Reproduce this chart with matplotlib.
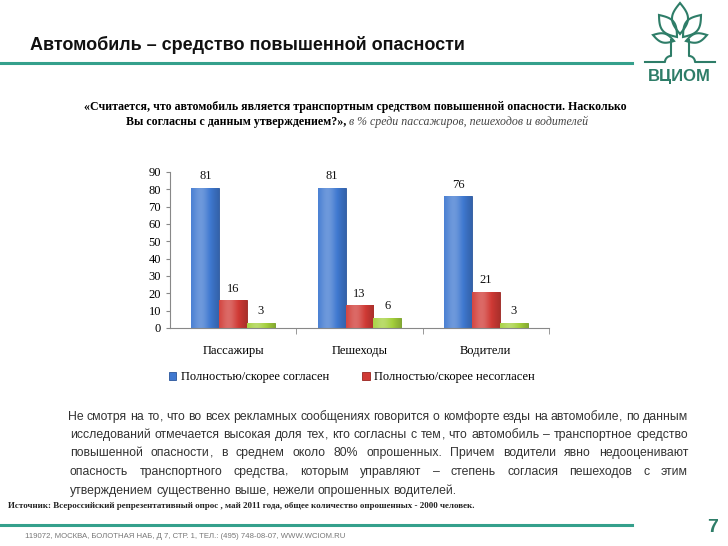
import numpy as np
import matplotlib.pyplot as plt
from matplotlib.colors import to_rgb
from matplotlib.patches import Polygon

categories = ['Пассажиры', 'Пешеходы', 'Водители']
agree = [81, 81, 76]
disagree = [16, 13, 21]
unsure = [3, 6, 3]
legend_labels = ['Полностью/скорее согласен', 'Полностью/скорее несогласен']
y_ticks = [0, 10, 20, 30, 40, 50, 60, 70, 80, 90]

title = 'Автомобиль – средство повышенной опасности'
question_1 = '«Считается, что автомобиль является транспортным средством повышенной опасности. Насколько'
question_2 = 'Вы согласны с данным утверждением?»,'
question_note = 'в % среди пассажиров, пешеходов и водителей'
paragraph = [
    'Не  смотря на то, что во всех рекламных сообщениях говорится о комфорте езды на автомобиле, по данным',
    'исследований отмечается высокая доля тех, кто  согласны с тем, что автомобиль – транспортное средство',
    'повышенной опасности, в среднем около 80% опрошенных. Причем водители явно недооценивают',
    'опасность транспортного средства, которым управляют – степень согласия пешеходов с этим',
    'утверждением существенно выше, нежели опрошенных водителей.',
]
source = ('Источник: Всероссийский репрезентативный опрос , май 2011 года, '
          'общее количество опрошенных - 2000 человек.')
address = '119072, МОСКВА, БОЛОТНАЯ НАБ, Д 7, СТР. 1, ТЕЛ.: (495) 748-08-07, WWW.WCIOM.RU'

W, H = 728, 546
teal = '#35a08c'
serif = ['Liberation Serif', 'DejaVu Serif']
sans = ['Liberation Sans', 'DejaVu Sans']

fig = plt.figure(figsize=(W / 100, H / 100), dpi=100)

# overlay in pixel coordinates for page decoration
ov = fig.add_axes([0, 0, 1, 1])
ov.set_xlim(0, W)
ov.set_ylim(H, 0)
ov.axis('off')

# chart
ax = fig.add_axes([170 / W, 1 - 328 / H, 379 / W, 156 / H])
x = np.arange(len(categories))
w = 0.22
colors = ['#3f78d0', '#d03a35', '#a4d03c']
edges = ['#2a559a', '#992420', '#6f9a22']
b1 = ax.bar(x - w, agree, w, color=colors[0], edgecolor=edges[0], linewidth=0.6)
b2 = ax.bar(x, disagree, w, color=colors[1], edgecolor=edges[1], linewidth=0.6)
b3 = ax.bar(x + w, unsure, w, color=colors[2], edgecolor=edges[2], linewidth=0.6)


def shade(bars, base):
    c = np.array(to_rgb(base))
    t = np.linspace(0, 1, 60)
    k = 0.25 * np.exp(-((t - 0.35) / 0.3) ** 2) - 0.18 * t ** 3
    rgb = np.clip(c + k[:, None] * np.where(k[:, None] > 0, 1 - c, c), 0, 1)
    for b in bars:
        x0, y0 = b.get_xy()
        im = ax.imshow(rgb[None, :, :], extent=[x0, x0 + b.get_width(), y0, y0 + b.get_height()],
                       aspect='auto', zorder=b.get_zorder() + 0.1, interpolation='bilinear')
        im.set_clip_path(b)


for bars, c in zip((b1, b2, b3), colors):
    shade(bars, c)
    ax.bar_label(bars, padding=4, fontsize=9, family=serif, color='#111')

ax.set_xlim(-0.5, 2.5)
ax.set_ylim(0, 90)
ax.set_aspect('auto')
ax.set_yticks(y_ticks)
ax.set_xticks(x)
ax.set_xticklabels(categories, family=serif, fontsize=9)
ax.set_xticks([0.5, 1.5, 2.5], minor=True)
ax.tick_params(axis='x', which='major', length=0, pad=12)
ax.tick_params(axis='x', which='minor', length=4, color='#888')
ax.tick_params(axis='y', length=3, color='#888', labelsize=9)
for lab in ax.get_yticklabels():
    lab.set_family(serif)
for s in ('top', 'right'):
    ax.spines[s].set_visible(False)
for s in ('left', 'bottom'):
    ax.spines[s].set_color('#888')
    ax.spines[s].set_linewidth(0.8)

fig.legend([b1, b2], legend_labels, loc='center', bbox_to_anchor=(352 / W, 1 - 377 / H),
           ncol=2, frameon=False, handlelength=0.6, handleheight=0.6, handletextpad=0.4,
           columnspacing=2.6, prop={'family': serif, 'size': 9})

# header
ov.text(30, 45, title, fontsize=13, fontweight='bold', family=sans, color='#111', va='center')
ov.plot([0, 632], [63, 63], color=teal, lw=2.2)
ov.text(355, 107, question_1, fontsize=8.6, fontweight='bold', family=serif, ha='center', va='center')
ov.text(346, 122, question_2, fontsize=8.6, fontweight='bold', family=serif, ha='right', va='center')
ov.text(349, 122, question_note, fontsize=8.6, style='italic', family=serif, color='#444',
        ha='left', va='center')

# logo
green = '#2e7d68'


def leaf(base, tip, width):
    base, tip = np.array(base, float), np.array(tip, float)
    d = tip - base
    n = np.array([-d[1], d[0]]) / np.hypot(*d)
    t = np.linspace(0, 1, 30)
    off = np.sin(np.pi * t) * width / 2
    side1 = base + t[:, None] * d + off[:, None] * n
    side2 = base + t[::-1, None] * d - off[::-1, None] * n
    ov.add_patch(Polygon(np.vstack([side1, side2]), closed=True, fill=False, ec=green, lw=1.5))


leaf((680, 34), (680, 3), 16)
leaf((677, 37), (659, 15), 14)
leaf((683, 37), (701, 15), 14)
leaf((674, 41), (653, 35), 9)
leaf((686, 41), (707, 35), 9)
tt = np.linspace(0, np.pi / 2, 12)
ov.plot(np.r_[671, 671, 671 - 6 * np.sin(tt), 645], np.r_[40, 56, 56 + 6 * (1 - np.cos(tt)), 62],
        color=green, lw=1.5)
ov.plot(np.r_[689, 689, 689 + 6 * np.sin(tt), 715], np.r_[40, 56, 56 + 6 * (1 - np.cos(tt)), 62],
        color=green, lw=1.5)
ov.text(679, 77, 'ВЦИОМ', fontsize=12, fontweight='bold', family=sans, color=green,
        ha='center', va='center')

# paragraph, justified word by word; trailing commas drawn apart so words share one baseline
fig.canvas.draw()
r = fig.canvas.get_renderer()
baselines = [420, 438, 456, 475, 494]
starts = [68, 70, 70, 70, 70]
lines = [[wd for wd in line.split(' ') if wd] for line in paragraph]
probe_t = ov.text(0, 0, '', fontsize=10, family=sans)


def width(s):
    probe_t.set_text(s)
    return probe_t.get_window_extent(r).width


probe = []
for i, words in enumerate(lines[:-1]):
    total = sum(width(wd) for wd in words)
    probe.append((688 - starts[i] - 3.2 * (len(words) - 1)) / total)
fs = round(10 * min(probe), 2)
probe_t.set_fontsize(fs)
for i, words in enumerate(lines):
    parts = [(wd[:-1], ',') if wd.endswith(',') else (wd, '') for wd in words]
    ws = [(width(b), width(p) if p else 0) for b, p in parts]
    if i == len(lines) - 1:
        gap = 3.2
    else:
        gap = (688 - starts[i] - sum(a + b for a, b in ws)) / (len(words) - 1)
    xx = starts[i]
    for (body, punct), (wb, wp) in zip(parts, ws):
        ov.text(xx, baselines[i], body, fontsize=fs, family=sans, color='#333', va='baseline')
        if punct:
            ov.text(xx + wb, baselines[i], punct, fontsize=fs, family=sans, color='#333',
                    va='baseline')
        xx += wb + wp + gap
probe_t.remove()

# footer
ov.text(8, 506, source, fontsize=6.5, fontweight='bold', family=serif, color='#222', va='center')
ov.plot([0, 632], [525, 525], color=teal, lw=2.2)
ov.text(25, 537, address, fontsize=5.6, family=sans, color='#777', va='center')
ov.text(713, 528, '7', fontsize=14, fontweight='bold', family=sans, color=green, ha='center',
        va='center')

fig.savefig('out.png', dpi=100)
